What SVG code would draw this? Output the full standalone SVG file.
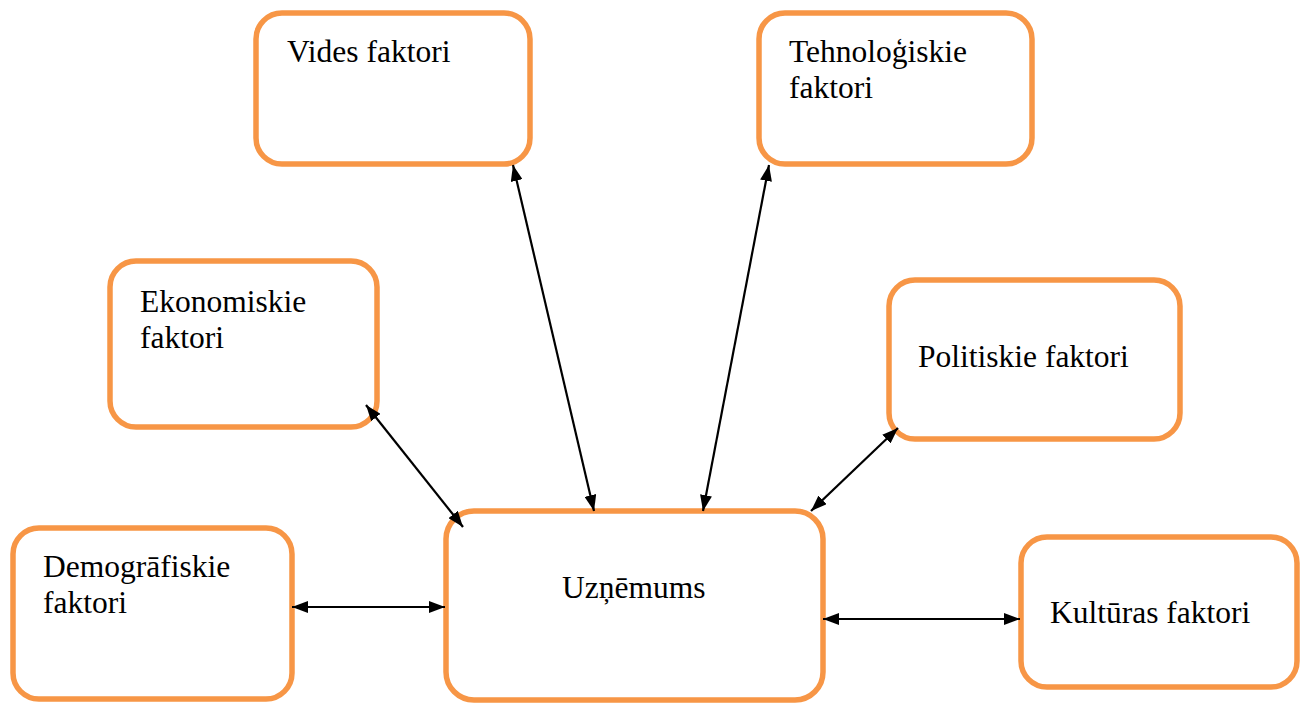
<svg xmlns="http://www.w3.org/2000/svg" width="1303" height="704" viewBox="0 0 1303 704">
<style>
.box{fill:#fff;stroke:#F79646;stroke-width:5.5}
.t{font-family:"Liberation Serif","Times New Roman",serif;font-size:31.5px;fill:#000}
.c{stroke:#000;stroke-width:2.2;fill:none;marker-start:url(#ah);marker-end:url(#ah)}
</style>
<defs>
<marker id="ah" viewBox="0 0 16 12" refX="16" refY="6" markerWidth="16" markerHeight="12" markerUnits="userSpaceOnUse" orient="auto-start-reverse">
<path d="M0,0 L16,6 L0,12 Z" fill="#000"/>
</marker>
</defs>
<rect width="1303" height="704" fill="#fff"/>
<g id="vides"><rect class="box" x="256" y="13" width="274" height="151" rx="26"/><text class="t" x="287" y="62">Vides faktori</text></g>
<g id="tehnologiskie"><rect class="box" x="759" y="13" width="273" height="151" rx="26"/><text class="t" x="789" y="62">Tehnoloģiskie</text><text class="t" x="789" y="98">faktori</text></g>
<g id="ekonomiskie"><rect class="box" x="110" y="261" width="267" height="166" rx="26"/><text class="t" x="140" y="312">Ekonomiskie</text><text class="t" x="140" y="348">faktori</text></g>
<g id="politiskie"><rect class="box" x="889" y="280" width="291" height="159" rx="26"/><text class="t" x="918" y="367">Politiskie faktori</text></g>
<g id="demografiskie"><rect class="box" x="13" y="528" width="279" height="171" rx="26"/><text class="t" x="43" y="577">Demogrāfiskie</text><text class="t" x="43" y="613">faktori</text></g>
<g id="uznemums"><rect class="box" x="446" y="511" width="377" height="189" rx="28"/><text class="t" x="562" y="598">Uzņēmums</text></g>
<g id="kulturas"><rect class="box" x="1021" y="537" width="276" height="150" rx="26"/><text class="t" x="1050" y="623">Kultūras faktori</text></g>
<g id="connectors">
<line class="c" x1="366" y1="405" x2="463" y2="527"/>
<line class="c" x1="513" y1="165" x2="594" y2="511"/>
<line class="c" x1="769" y1="165" x2="703" y2="511"/>
<line class="c" x1="898" y1="428" x2="811" y2="511"/>
<line class="c" x1="292" y1="607" x2="445" y2="607"/>
<line class="c" x1="823" y1="619" x2="1020" y2="619"/>
</g>
</svg>
